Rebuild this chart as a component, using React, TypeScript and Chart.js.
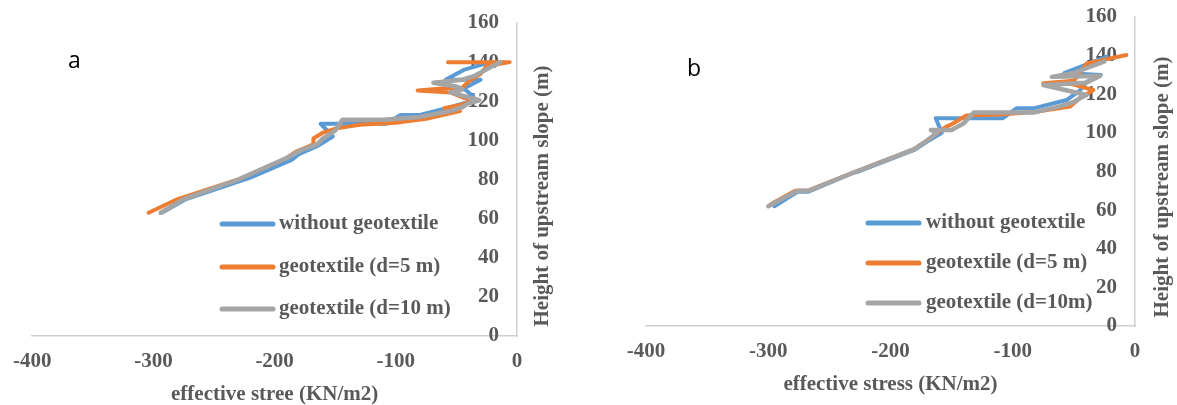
import React, { useEffect, useRef } from "react";
import { Chart, registerables } from "chart.js";

Chart.register(...registerables);

// ---------- shared axis ticks ----------
const xTickValues = [-400, -300, -200, -100, 0];
const yTickValues = [0, 20, 40, 60, 80, 100, 120, 140, 160];

const seriesColors = ["#5B9BD5", "#ED7D31", "#A5A5A5"];

// ---------- panel a ----------
const aLabels = ["without geotextile", "geotextile (d=5 m)", "geotextile (d=10 m)"];
const aXTitle = "effective stree (KN/m2)";

const aWithoutStress = [-293, -273, -225, -220, -186, -180, -165, -152, -162, -108, -96, -80, -55, -38, -36, -44, -30, -59, -44, -22];
const aWithoutHeight = [63, 70, 80, 81, 90, 93, 97, 102, 108.5, 108.5, 113, 113, 117, 120, 122.5, 126.5, 131, 131, 136, 140];

const aD5Stress = [-304, -280, -230, -190, -183, -168, -168, -160, -150, -130, -100, -75, -47, -60, -48, -35, -45, -55, -82, -62, -45, -40, -30, -25, -6, -57];
const aD5Height = [63, 70, 80, 91, 94, 98, 101, 104, 106, 108, 109, 111, 115, 116.5, 118, 120, 122, 124.5, 125.5, 126.5, 127, 130, 134, 138, 140, 140];

const aD10Stress = [-294, -275, -230, -190, -178, -165, -160, -150, -144, -110, -80, -55, -45, -40, -31, -55, -45, -50, -69, -45, -35, -14];
const aD10Height = [63, 70, 80, 91, 95, 98, 101, 105, 110.5, 110.5, 112, 115, 117, 119, 120.5, 124.5, 126, 127.5, 129.5, 131, 133, 140];

// ---------- panel b ----------
const bLabels = ["without geotextile", "geotextile (d=5 m)", "geotextile (d=10m)"];
const bXTitle = "effective stress (KN/m2)";

const bWithoutStress = [-295, -276, -267, -232, -226, -181, -170, -158, -163, -108, -97, -83, -56, -45, -39.5, -28, -58, -23];
const bWithoutHeight = [62, 69.5, 69.5, 79, 80, 91, 95.5, 100, 107.6, 107.6, 112.7, 112.7, 117, 122, 126.5, 130, 131, 139.5];

const bD5Stress = [-298, -278, -268, -230, -181, -168, -155, -150, -138, -110, -80, -53, -45, -34, -53, -75, -50, -39.5, -7];
const bD5Height = [63, 70, 70, 79.5, 91.5, 97, 103, 104.5, 109, 109.5, 111, 113.6, 118, 122.2, 125.5, 125.7, 127, 136, 140.3];

const bD10Stress = [-300, -276, -267, -230, -181, -170, -162, -167, -150, -140, -132, -83, -60, -50, -45, -39.5, -75, -40, -28.6, -68, -50, -25];
const bD10Height = [62, 70, 70, 79.5, 91.5, 96, 100, 101.5, 101.5, 105, 110.5, 110.5, 114, 116, 118, 119.6, 124.8, 126, 129.5, 129, 131, 137];

const yTitle = "Height of upstream slope (m)";

const SERIF = "'Liberation Serif', 'Times New Roman', serif";
const TEXT_COLOR = "#595959";
const AXIS_COLOR = "#D0D0D0";

function toPoints(xs: number[], ys: number[]) {
  return xs.map((x, i) => ({ x, y: ys[i] }));
}

const overlayPlugin = {
  id: "overlay",
  afterDraw(chart: any, _args: any, opts: any) {
    const ctx = chart.ctx;
    ctx.save();
    // y-axis title, rotated -90
    ctx.font = `bold 21px ${SERIF}`;
    ctx.fillStyle = TEXT_COLOR;
    ctx.textAlign = "center";
    ctx.textBaseline = "middle";
    ctx.translate(opts.yTitleX, opts.yTitleY);
    ctx.rotate(-Math.PI / 2);
    ctx.fillText(opts.yTitle, 0, 0);
    ctx.restore();

    // panel letter
    ctx.save();
    ctx.font = `23px 'Open Sans', sans-serif`;
    ctx.fillStyle = "#000000";
    ctx.textAlign = "left";
    ctx.textBaseline = "alphabetic";
    ctx.fillText(opts.letter, opts.letterX, opts.letterY);
    ctx.restore();

    // legend
    ctx.save();
    chart.data.datasets.forEach((ds: any, i: number) => {
      const y = opts.legendRows[i];
      ctx.strokeStyle = ds.borderColor;
      ctx.lineWidth = 5;
      ctx.lineCap = "round";
      ctx.beginPath();
      ctx.moveTo(opts.legendX1, y);
      ctx.lineTo(opts.legendX2, y);
      ctx.stroke();
      ctx.font = `bold 21px ${SERIF}`;
      ctx.fillStyle = TEXT_COLOR;
      ctx.textAlign = "left";
      ctx.textBaseline = "middle";
      ctx.fillText(ds.label, opts.legendTextX, y);
    });
    ctx.restore();
  },
};

function makeConfig(p: any) {
  const tickFont = { family: SERIF, size: 21, weight: "bold" as const };
  return {
    type: "scatter" as const,
    data: {
      datasets: p.series.map((s: any, i: number) => ({
        label: s.label,
        data: toPoints(s.xs, s.ys),
        showLine: true,
        borderColor: seriesColors[i],
        backgroundColor: seriesColors[i],
        borderWidth: i === 2 ? 4.5 : 4,
        borderJoinStyle: "round",
        borderCapStyle: "round",
        pointRadius: 0,
        pointHoverRadius: 0,
        tension: 0,
        order: 3 - i,
      })),
    },
    options: {
      animation: false,
      responsive: false,
      maintainAspectRatio: false,
      events: [],
      layout: { padding: p.padding },
      plugins: {
        legend: { display: false },
        tooltip: { enabled: false },
        overlay: p.overlay,
      },
      scales: {
        x: {
          type: "linear",
          position: "bottom",
          min: -400,
          max: 0,
          afterBuildTicks: (axis: any) => {
            axis.ticks = xTickValues.map((v) => ({ value: v }));
          },
          grid: { display: false, drawTicks: false },
          border: { display: true, color: AXIS_COLOR, width: 1.5 },
          ticks: {
            font: tickFont,
            color: TEXT_COLOR,
            padding: 13,
            maxRotation: 0,
            autoSkip: false,
          },
          title: {
            display: true,
            text: p.xTitle,
            color: TEXT_COLOR,
            font: { family: SERIF, size: 21, weight: "bold", lineHeight: 1 },
            padding: 0,
          },
          afterFit: (axis: any) => {
            axis.height = p.xAxisHeight;
          },
        },
        y: {
          type: "linear",
          position: "right",
          min: 0,
          max: 160,
          afterBuildTicks: (axis: any) => {
            axis.ticks = yTickValues.map((v) => ({ value: v }));
          },
          grid: { display: false, drawTicks: false },
          border: { display: true, color: AXIS_COLOR, width: 1.5 },
          ticks: {
            mirror: true,
            font: tickFont,
            color: TEXT_COLOR,
            padding: -18,
            autoSkip: false,
          },
          afterFit: (axis: any) => {
            axis.width = p.yAxisWidth;
          },
        },
      },
    },
    plugins: [overlayPlugin],
  };
}

const panelA = {
  series: [
    { label: aLabels[0], xs: aWithoutStress, ys: aWithoutHeight },
    { label: aLabels[1], xs: aD5Stress, ys: aD5Height },
    { label: aLabels[2], xs: aD10Stress, ys: aD10Height },
  ],
  xTitle: aXTitle,
  padding: { left: 30, top: 23, right: 0, bottom: 0 },
  xAxisHeight: 69,
  yAxisWidth: 63,
  overlay: {
    yTitle,
    yTitleX: 543,
    yTitleY: 196,
    letter: "a",
    letterX: 68,
    letterY: 68,
    legendX1: 222,
    legendX2: 273,
    legendTextX: 279,
    legendRows: [224, 267, 309],
  },
};

const panelB = {
  series: [
    { label: bLabels[0], xs: bWithoutStress, ys: bWithoutHeight },
    { label: bLabels[1], xs: bD5Stress, ys: bD5Height },
    { label: bLabels[2], xs: bD10Stress, ys: bD10Height },
  ],
  xTitle: bXTitle,
  padding: { left: 46, top: 17, right: 0, bottom: 10 },
  xAxisHeight: 69,
  yAxisWidth: 42,
  overlay: {
    yTitle,
    yTitleX: 563,
    yTitleY: 187,
    letter: "b",
    letterX: 87,
    letterY: 76,
    legendX1: 268,
    legendX2: 319,
    legendTextX: 326,
    legendRows: [223, 263, 303],
  },
};

function Panel({ cfg, left, width }: { cfg: any; left: number; width: number }) {
  const ref = useRef<HTMLCanvasElement | null>(null);
  useEffect(() => {
    if (!ref.current) return;
    const chart = new Chart(ref.current, makeConfig(cfg) as any);
    return () => chart.destroy();
  }, [cfg]);
  return (
    <canvas
      ref={ref}
      width={width}
      height={405}
      style={{ position: "absolute", left, top: 0, width, height: 405 }}
    />
  );
}

export default function App() {
  return (
    <div
      style={{
        position: "absolute",
        left: 0,
        top: 0,
        width: 1177,
        height: 405,
        background: "#ffffff",
        overflow: "hidden",
      }}
    >
      <Panel cfg={panelA} left={0} width={580} />
      <Panel cfg={panelB} left={600} width={577} />
    </div>
  );
}
